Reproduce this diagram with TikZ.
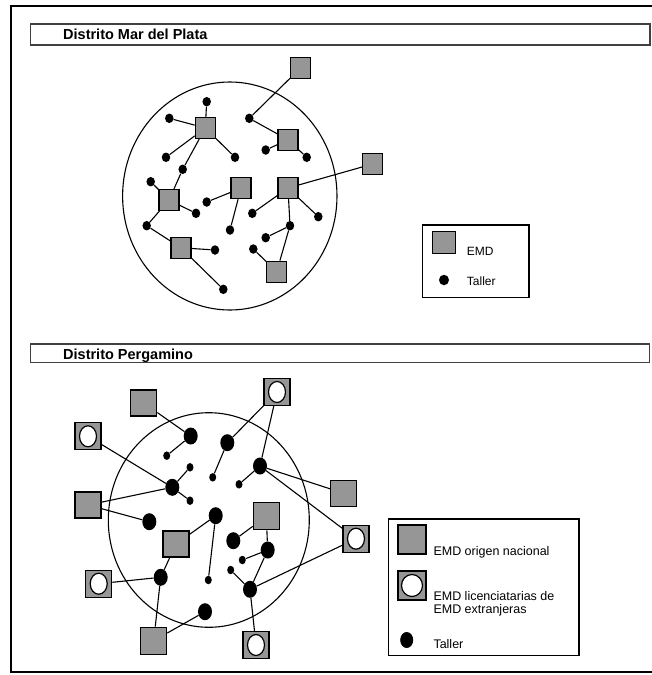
\documentclass[tikz,border=0pt]{standalone}
\usepackage{fontspec}
\setmainfont{Liberation Sans}
\usetikzlibrary{shapes.geometric}
\definecolor{emdgris}{RGB}{150,150,150}
\tikzset{
emd/.style={draw, fill=emdgris, rectangle, inner sep=0pt, line width=1.2pt, minimum width=20pt, minimum height=21pt}, % EMD (cuadrado gris)
lic/.style={emd, minimum width=26pt, minimum height=27pt, path picture={\draw[fill=white, line width=1.2pt] (path picture bounding box.center) ellipse (#1);}}, % EMD licenciataria
lic/.default={8.5pt and 10.5pt},
taller/.style={fill, ellipse, inner sep=0pt, minimum width=8.5pt, minimum height=9.5pt}, % taller chico
grande/.style={taller, minimum width=14pt, minimum height=17pt},
chico/.style={taller, minimum width=7pt, minimum height=8.5pt},
zona/.style={line width=1.1pt},
enlace/.style={line width=1.1pt},
cabecera/.style={draw=black!75, line width=1.3pt},
titulo/.style={anchor=base west, inner sep=0pt, font=\fontsize{14.5}{17}\selectfont\bfseries},
leyenda/.style={anchor=base west, inner sep=0pt, font=\fontsize{12.5}{15}\selectfont},
}
\begin{document}
\begin{tikzpicture}[x=1pt, y=-1pt]
    \useasboundingbox (0,0) rectangle (652,675);
    \draw[line width=2pt] (652,5.7) -- (11,5.7) -- (11,671.7) -- (652,671.7);

    % Distrito Mar del Plata
    \draw[cabecera] (30.5,24) rectangle (650,45);
    \node[titulo] at (63,39.5) (tit1) {Distrito Mar del Plata};
    \draw[zona] (229.8,196) ellipse (107.2pt and 114pt);

    \node[emd] at (300.7,67.8) (e1) {};
    \node[emd] at (205.3,128) (e2) {};
    \node[emd] at (288,139.8) (e3) {};
    \node[emd] at (372.7,164) (e4) {};
    \node[emd] at (241,188.2) (e5) {};
    \node[emd] at (288,188) (e6) {};
    \node[emd] at (169,200) (e7) {};
    \node[emd] at (181,247.8) (e8) {};
    \node[emd] at (276.7,271.7) (e9) {};

    \node[taller] at (206.7,101.7) (t1) {};
    \node[taller] at (169.3,118.3) (t2) {};
    \node[taller] at (249.3,118.3) (t3) {};
    \node[taller] at (166,157.3) (t4) {};
    \node[taller] at (235,157.3) (t5) {};
    \node[taller] at (265.7,150) (t6) {};
    \node[taller] at (306.7,157.3) (t7) {};
    \node[taller] at (182.7,169.3) (t8) {};
    \node[taller] at (150.7,181.7) (t9) {};
    \node[taller] at (206.7,202) (t10) {};
    \node[taller] at (252.3,213.3) (t11) {};
    \node[taller] at (318.3,216.7) (t12) {};
    \node[taller] at (196,213.3) (t13) {};
    \node[taller] at (146.7,225.7) (t14) {};
    \node[taller] at (230,230) (t15) {};
    \node[taller] at (290,225.7) (t16) {};
    \node[taller] at (265.7,237.7) (t17) {};
    \node[taller] at (253.3,249) (t18) {};
    \node[taller] at (215,250) (t19) {};
    \node[taller] at (223.3,289.3) (t20) {};

    \draw[enlace]
    (e1) -- (t3) -- (e3) (e3) -- (t6) (e3) -- (t7)
    (e2) -- (t1) (e2) -- (t2) (e2) -- (t4) (e2) -- (t5) (e2) -- (t8) -- (e7)
    (e7) -- (t9) (e7) -- (t13) (e7) -- (t14) -- (e8) (e8) -- (t19) (e8) -- (t20)
    (e5) -- (t10) (e5) -- (t15)
    (e6) -- (e4) (e6) -- (t11) (e6) -- (t12) (e6) -- (t16) -- (t17)
    (t16) -- (e9) -- (t18)
    ;

    \draw[line width=1.2pt] (422.7,225) rectangle (529,297.7);
    \node[emd, minimum width=23pt, minimum height=22pt] at (444.2,242.8) (ley1) {};
    \node[leyenda, font=\fontsize{12}{14}\selectfont] at (466.7,255) (ley1t) {EMD};
    \node[taller, minimum width=10pt, minimum height=10.5pt] at (444,280) (ley2) {};
    \node[leyenda, font=\fontsize{12}{14}\selectfont] at (466.7,285) (ley2t) {Taller};

    % Distrito Pergamino
    \draw[cabecera] (30.5,344) rectangle (649.5,362.7);
    \node[titulo] at (63,359.5) (tit2) {Distrito Pergamino};
    \draw[zona] (208.8,520) ellipse (100.5pt and 107.3pt);

    \node[emd, minimum width=26pt, minimum height=26pt] at (143.7,403) (n1) {};
    \node[emd, minimum width=26pt, minimum height=26pt] at (88,505) (n2) {};
    \node[emd, minimum width=26pt, minimum height=26pt] at (343.8,493.3) (n3) {};
    \node[emd, minimum width=26pt, minimum height=27pt] at (266.3,516.3) (n4) {};
    \node[emd, minimum width=26pt, minimum height=26pt] at (176,544) (n5) {};
    \node[emd, minimum width=26pt, minimum height=27pt] at (153.7,640.7) (n6) {};

    \node[lic] at (277,392) (l1) {};
    \node[lic] at (88,436.3) (l2) {};
    \node[lic] at (356,538.7) (l3) {};
    \node[lic] at (98.7,583.7) (l4) {};
    \node[lic] at (256,645) (l5) {};

    \node[grande] at (190.7,436) (g1) {};
    \node[grande] at (227.3,442.7) (g2) {};
    \node[grande] at (260,466) (g3) {};
    \node[grande] at (172.3,487.3) (g4) {};
    \node[grande] at (149.3,521.7) (g5) {};
    \node[grande] at (215.7,515.7) (g6) {};
    \node[grande] at (233.3,540.7) (g7) {};
    \node[grande] at (267.7,550) (g8) {};
    \node[grande] at (160.7,577.3) (g9) {};
    \node[grande] at (250,589.3) (g10) {};
    \node[grande] at (205,611.7) (g11) {};

    \node[chico] at (166.7,455.7) (c1) {};
    \node[chico] at (190,467.3) (c2) {};
    \node[chico] at (212.7,477.3) (c3) {};
    \node[chico] at (239,484.3) (c4) {};
    \node[chico] at (190,500.7) (c5) {};
    \node[chico] at (242.3,560) (c6) {};
    \node[chico] at (230.7,570) (c7) {};
    \node[chico] at (208.3,580) (c8) {};

    \draw[enlace]
    (n1) -- (g1) -- (c1)
    (l1) -- (g2) -- (c3)
    (l1) -- (g3) -- (c4) (g3) -- (n3) (g3) -- (l3)
    (l2) -- (g4) -- (c2) (g4) -- (c5) (g4) -- (n2) -- (g5)
    (n5) -- (g6) -- (c8)
    (n4) -- (g7) (n4) -- (g8) -- (c6) (g8) -- (g10) -- (c7)
    (g10) -- (l3) (g10) -- (l5)
    (l4) -- (g9) (n5) -- (g9) -- (n6) -- (g11)
    ;

    \draw[line width=1.2pt] (388.3,519) rectangle (579,655.7);
    \node[emd, minimum width=28pt, minimum height=29pt] at (412,539.5) (ley3) {};
    \node[leyenda] at (433.3,555) (ley3t) {EMD origen nacional};
    \node[lic={10.5pt and 11pt}, minimum width=28pt, minimum height=29pt] at (412,585.5) (ley4) {};
    \node[leyenda] at (433.3,600.7) (ley4t) {EMD licenciatarias de};
    \node[leyenda] at (433.3,613.3) (ley4u) {EMD extranjeras};
    \node[grande, minimum width=13pt, minimum height=16pt] at (406.7,640) (ley5) {};
    \node[leyenda] at (433.3,648.3) (ley5t) {Taller};
\end{tikzpicture}
\end{document}
